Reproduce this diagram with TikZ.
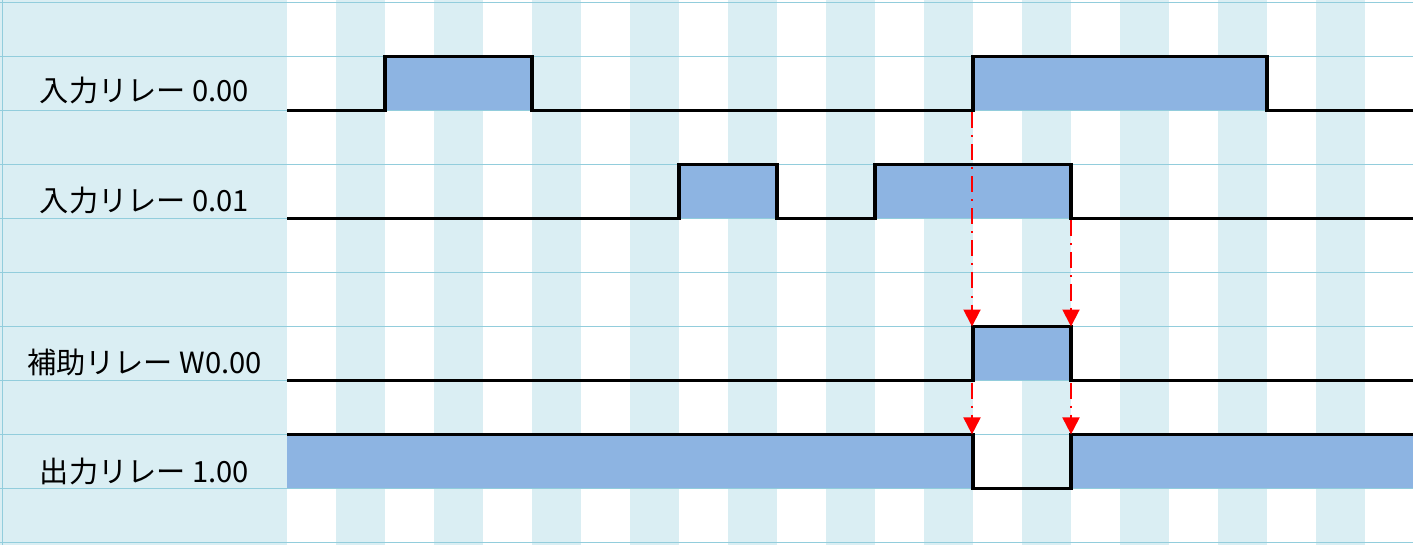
\documentclass[tikz,border=0pt]{standalone}
\usepackage{fontspec}
\newfontfamily\jpfont{Noto Sans CJK JP}
\usetikzlibrary{arrows.meta,positioning}
\definecolor{sheetblue}{HTML}{DAEEF3}
\definecolor{gridblue}{HTML}{92CDDC}
\definecolor{onfill}{HTML}{8DB4E2}
\tikzset{
  signame/.style = {anchor=base, inner sep=0pt, font=\jpfont\fontsize{14.6}{16}\selectfont},
  gridline/.style = {draw=gridblue, line width=0.5pt},
  pulse/.style   = {fill=onfill},
  wave/.style    = {draw=black, line width=1.65pt, line join=miter},
  trigger/.style = {draw=red, line width=1pt,
                   dash pattern=on 8pt off 3.5pt on 1pt off 3.5pt,
                   -{Triangle[width=8.5pt,length=8.5pt]}}
}
\begin{document}
\begin{tikzpicture}[x=0.5pt,y=-0.5pt]
\useasboundingbox (0,0) rectangle (1413,545);

% sheet: label column and striped time columns
\fill[sheetblue] (0,0) rectangle (287,545);
\foreach \i in {1,3,...,21}
  \fill[sheetblue] ({287+49*\i},0) rectangle ({336+49*\i},545);

% high levels of each signal
\foreach \a/\b/\hi/\lo in {385/532/56.7/110.6, 973/1267/56.7/110.6,
                           679/777/164.6/218.5, 875/1071/164.6/218.5,
                           973/1071/326.5/380.4,
                           287/973/434.4/488.3, 1071/1413/434.4/488.3}
  \fill[pulse] (\a,\hi) rectangle (\b,\lo);

% row lines
\foreach \k in {0,...,10}
  \draw[gridline] (0,{2.7+53.96*\k}) -- (1413,{2.7+53.96*\k});
\draw[gridline] (2.7,0) -- (2.7,545);

% signal names
\node[signame] (in00)  at (144.5,101.7) {入力リレー 0.00};
\node[signame] (in01)  at (144.5,211.7) {入力リレー 0.01};
\node[signame] (auxW)  at (144.5,373.3) {補助リレー W0.00};
\node[signame] (out10) at (144.5,482.3) {出力リレー 1.00};

% waveforms
\draw[wave] (287,110.6) -- (385,110.6) -- (385,56.7) -- (532,56.7) -- (532,110.6)
  -- (973,110.6) -- (973,56.7) -- (1267,56.7) -- (1267,110.6) -- (1413,110.6);
\draw[wave] (287,218.5) -- (679,218.5) -- (679,164.6) -- (777,164.6) -- (777,218.5)
  -- (875,218.5) -- (875,164.6) -- (1071,164.6) -- (1071,218.5) -- (1413,218.5);
\draw[wave] (287,380.4) -- (973,380.4) -- (973,326.5) -- (1071,326.5) -- (1071,380.4)
  -- (1413,380.4);
\draw[wave] (287,434.4) -- (973,434.4) -- (973,488.3) -- (1071,488.3) -- (1071,434.4)
  -- (1413,434.4);

% edges that trigger the next relay
\coordinate (up00)   at (972,112.5);
\coordinate (setW)   at (972,326.5);
\coordinate (dn01)   at (1071,220.5);
\coordinate (rstW)   at (1071,326.5);
\coordinate (upW)    at (972,382.5);
\coordinate (offOut) at (972,434.4);
\coordinate (dnW)    at (1071,382.5);
\coordinate (onOut)  at (1071,434.4);

\draw[trigger] (up00) -- (setW);
\draw[trigger] (dn01) -- (rstW);
\draw[trigger] (upW) -- (offOut);
\draw[trigger] (dnW) -- (onOut);

\end{tikzpicture}
\end{document}
